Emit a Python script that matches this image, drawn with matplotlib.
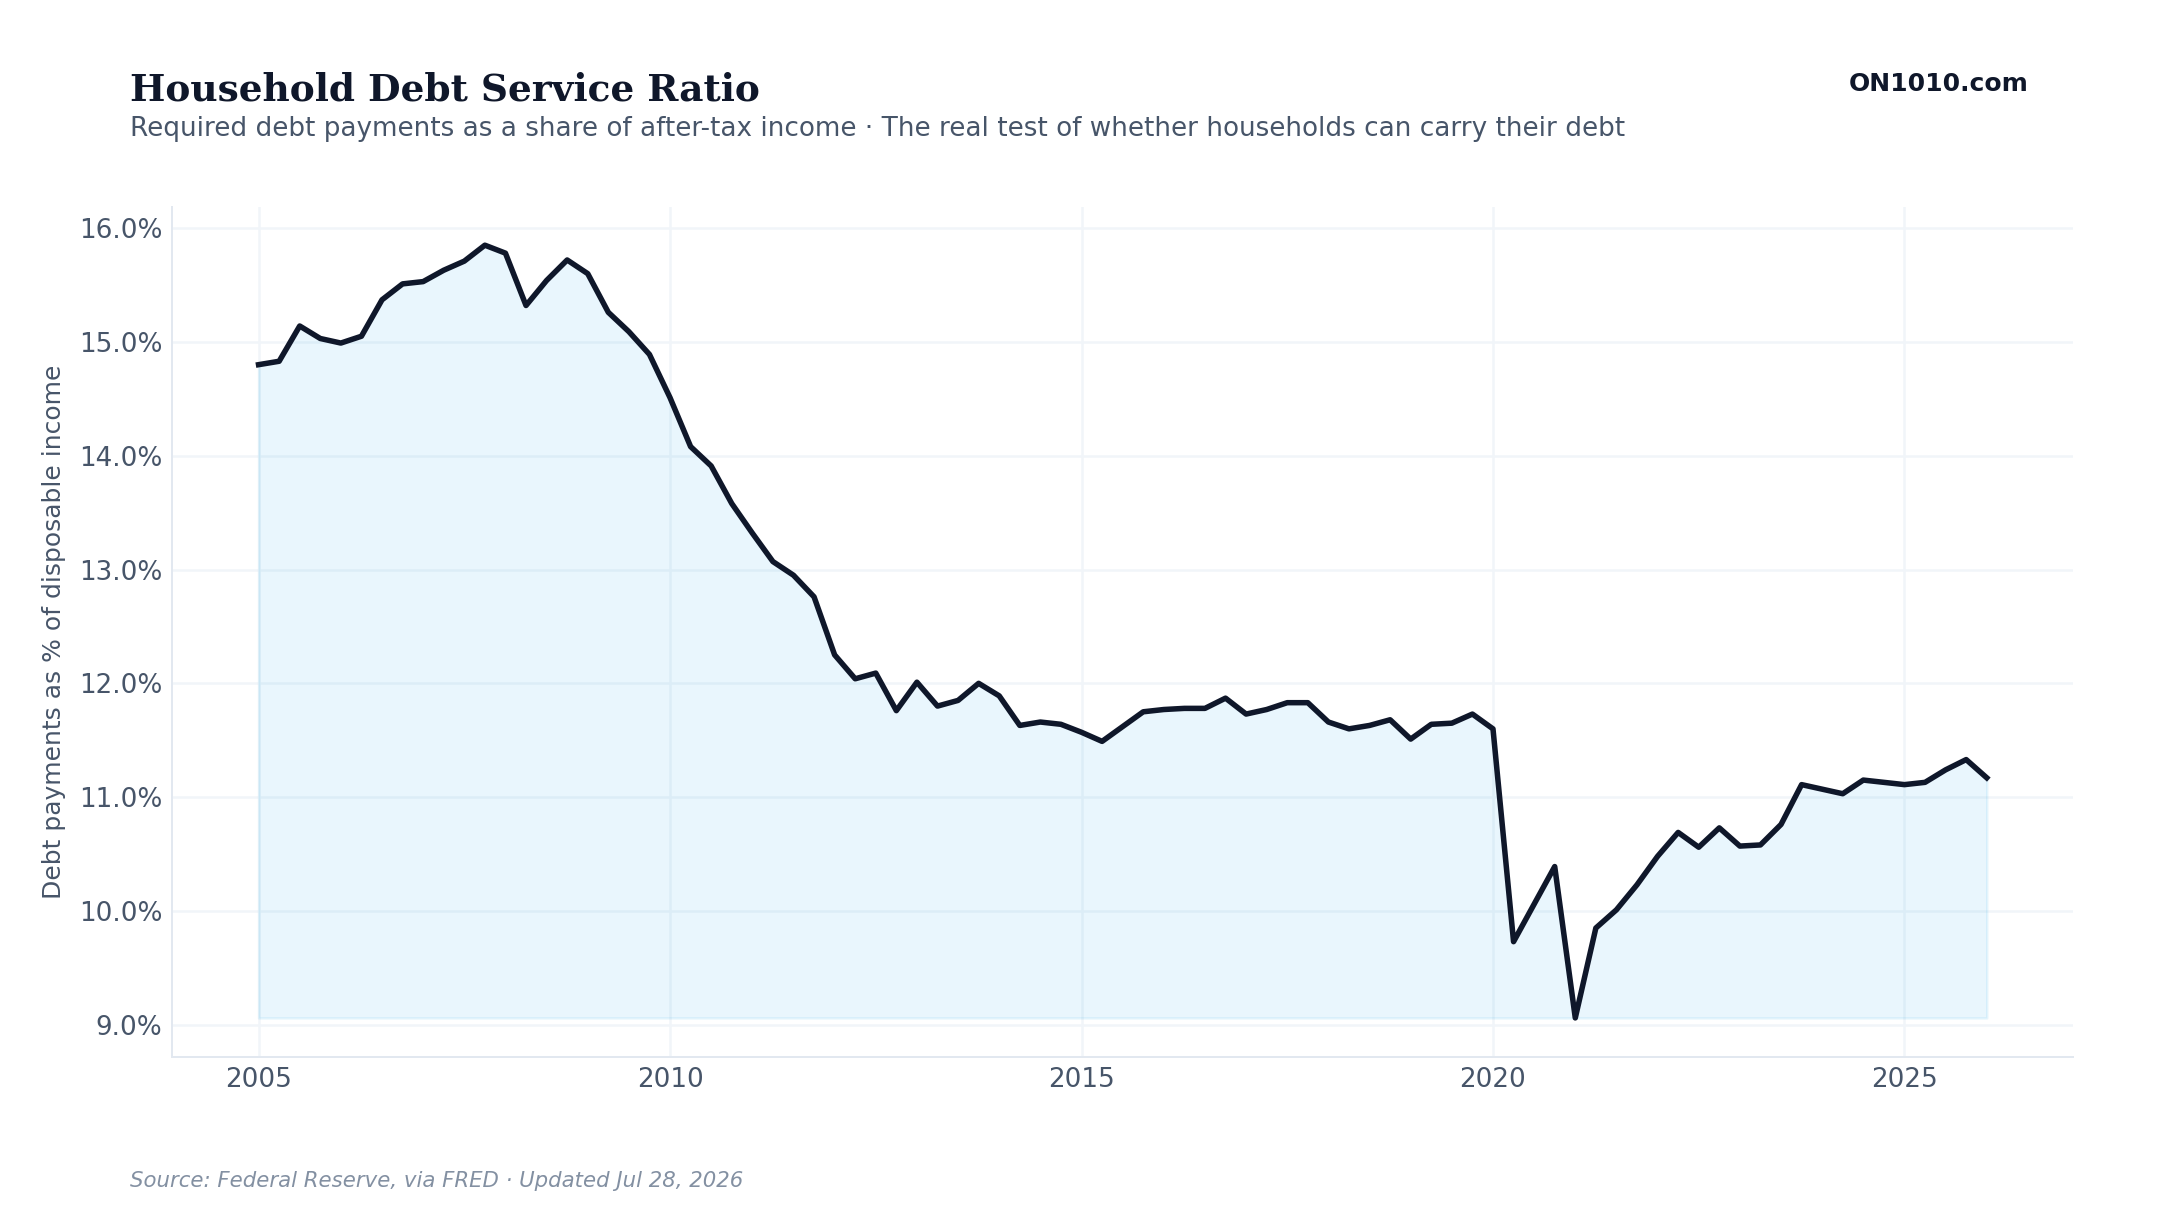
import matplotlib
matplotlib.use("Agg")
import matplotlib.pyplot as plt
import numpy as np
from matplotlib.ticker import FuncFormatter

# quarterly, 2005 Q1 .. 2026 Q1
start_year = 2005.0
dsr = [
    14.80, 14.83, 15.14, 15.03, 14.99, 15.05, 15.37, 15.51, 15.53, 15.63,
    15.71, 15.85, 15.78, 15.32, 15.54, 15.72, 15.60, 15.26, 15.09, 14.89,
    14.51, 14.08, 13.91, 13.58, 13.32, 13.07, 12.95, 12.76, 12.25, 12.04,
    12.09, 11.76, 12.01, 11.80, 11.85, 12.00, 11.89, 11.63, 11.66, 11.64,
    11.57, 11.49, 11.62, 11.75, 11.77, 11.78, 11.78, 11.87, 11.73, 11.77,
    11.83, 11.83, 11.66, 11.60, 11.63, 11.68, 11.51, 11.64, 11.65, 11.73,
    11.60, 9.73, 10.06, 10.39, 9.06, 9.85, 10.01, 10.23, 10.48, 10.69,
    10.56, 10.73, 10.57, 10.58, 10.76, 11.11, 11.07, 11.03, 11.15, 11.13,
    11.11, 11.13, 11.24, 11.33, 11.17,
]
dates = start_year + np.arange(len(dsr)) / 4.0
year_ticks = [2005, 2010, 2015, 2020, 2025]

title = "Household Debt Service Ratio"
subtitle = ("Required debt payments as a share of after-tax income \u00b7 "
            "The real test of whether households can carry their debt")
brand = "ON1010.com"
source = "Source: Federal Reserve, via FRED \u00b7 Updated Jul 28, 2026"

DARK = "#0f172a"
SLATE = "#475569"
GRID = "#f1f5f9"

fig = plt.figure(figsize=(12, 6.75), dpi=180)
ax = fig.add_axes([0.0797, 0.1304, 0.8801, 0.6996])

vals = np.array(dsr)
ax.fill_between(dates, vals, vals.min(), color="#0ea5e9", alpha=0.09, linewidth=1)
ax.plot(dates, vals, color=DARK, linewidth=2.2)

ax.set_xticks(year_ticks)
ax.yaxis.set_major_formatter(FuncFormatter(lambda v, p: f"{v:.1f}%"))
ax.tick_params(length=0, labelsize=10.5, colors=SLATE, pad=4)
ax.grid(True, color=GRID, linewidth=1)
ax.set_axisbelow(True)
for s in ("top", "right"):
    ax.spines[s].set_visible(False)
for s in ("left", "bottom"):
    ax.spines[s].set_color("#e2e8f0")
ax.set_ylabel("Debt payments as % of disposable income", fontsize=10,
              color=SLATE, labelpad=5)

fig.text(0.06, 0.926, title, family="DejaVu Serif", weight="bold",
         fontsize=15, color=DARK, va="center")
fig.text(0.06, 0.894, subtitle, fontsize=10.5, color=SLATE, va="center")
fig.text(0.939, 0.931, brand, fontsize=10, weight="bold", color=DARK,
         ha="right", va="center")
fig.text(0.06, 0.028, source, fontsize=8.5, style="italic", color="#8390a2",
         va="center")

fig.savefig("out.png", dpi=180)
